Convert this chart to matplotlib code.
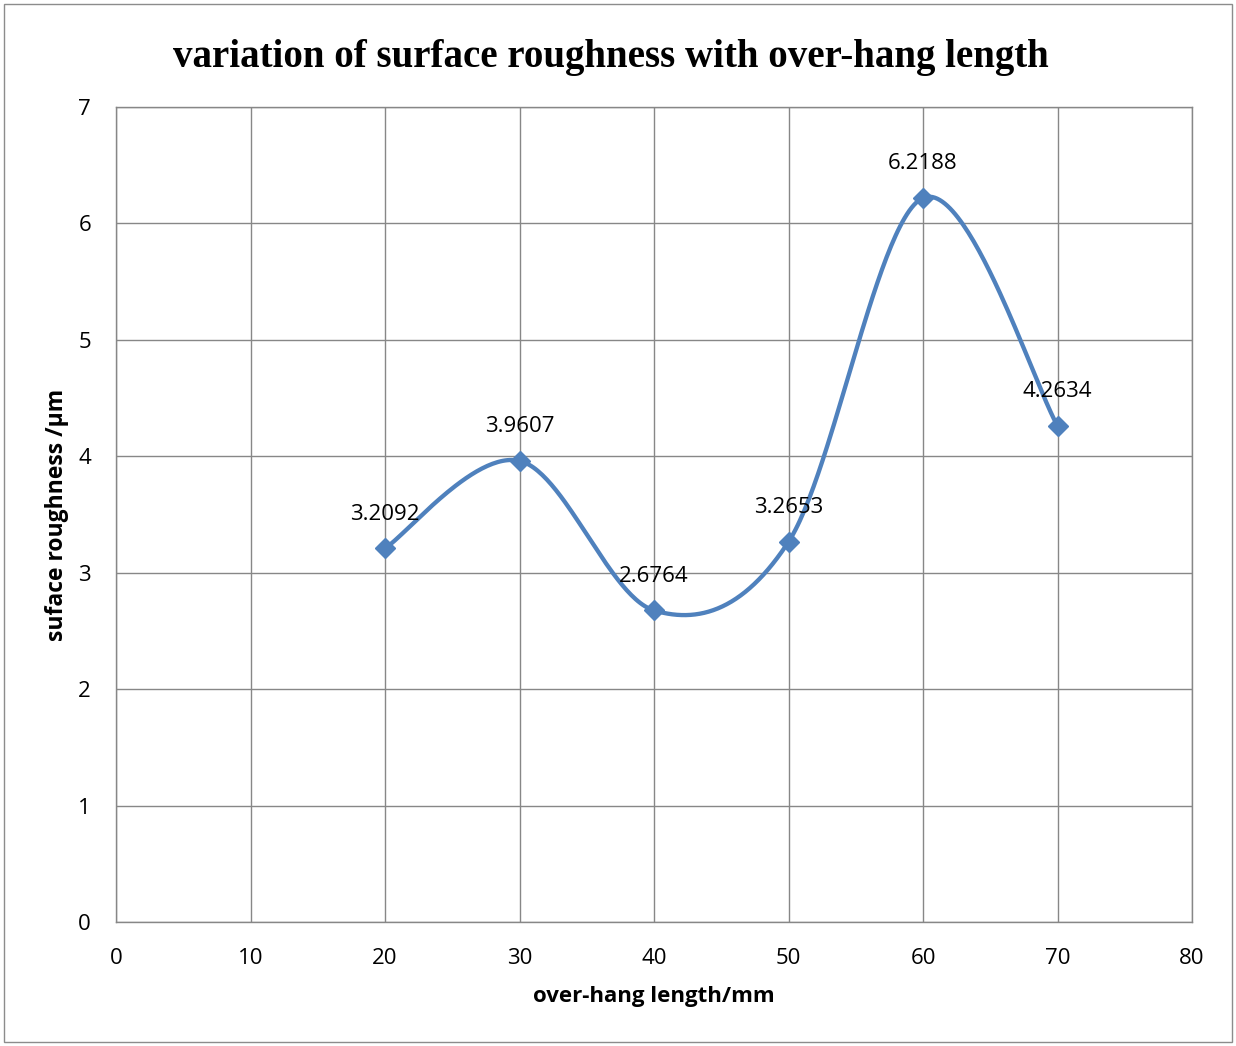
import numpy as np
import matplotlib
matplotlib.use("Agg")
import matplotlib.pyplot as plt
from matplotlib.patches import Rectangle

# data
overhang = [20, 30, 40, 50, 60, 70]
roughness = [3.2092, 3.9607, 2.6764, 3.2653, 6.2188, 4.2634]
labels = ["3.2092", "3.9607", "2.6764", "3.2653", "6.2188", "4.2634"]

line_color = "#4F81BD"
grid_color = "#878787"


def smooth_curve(x, y, steps=60):
    """Excel-like smoothed line: cubic Bezier segments with Catmull-Rom control points"""
    x = np.asarray(x, float)
    y = np.asarray(y, float)
    px = np.concatenate([[x[0]], x, [x[-1]]])
    py = np.concatenate([[y[0]], y, [y[-1]]])
    xs, ys = [], []
    t = np.linspace(0, 1, steps)
    for i in range(1, len(px) - 2):
        p0 = np.array([px[i], py[i]])
        p3 = np.array([px[i + 1], py[i + 1]])
        c1 = p0 + (np.array([px[i + 1], py[i + 1]]) - np.array([px[i - 1], py[i - 1]])) / 6
        c2 = p3 - (np.array([px[i + 2], py[i + 2]]) - np.array([px[i], py[i]])) / 6
        b = ((1 - t) ** 3)[:, None] * p0 + (3 * (1 - t) ** 2 * t)[:, None] * c1 \
            + (3 * (1 - t) * t ** 2)[:, None] * c2 + (t ** 3)[:, None] * p3
        xs.append(b[:, 0])
        ys.append(b[:, 1])
    return np.concatenate(xs), np.concatenate(ys)


fig = plt.figure(figsize=(12.36, 10.46), dpi=100)
ax = fig.add_axes([116 / 1236, 1 - 922 / 1046, (1192 - 116) / 1236, (922 - 107) / 1046])

# outer chart border
fig.patches.append(Rectangle((4 / 1236, 4 / 1046), 1228 / 1236, 1038 / 1046,
                             transform=fig.transFigure, fill=False,
                             edgecolor="#8c8c8c", linewidth=1))

sx, sy = smooth_curve(overhang, roughness)
ax.plot(sx, sy, color=line_color, linewidth=3.1, zorder=3)
ax.plot(overhang, roughness, linestyle="none", marker="D", markersize=10.5,
        color=line_color, zorder=4)

for xv, yv, lab in zip(overhang, roughness, labels):
    ax.annotate(lab, (xv, yv), xytext=(0, 24.5), textcoords="offset points",
                ha="center", va="center", fontsize=16, family="Open Sans",
                color="black", zorder=5)

ax.set_xlim(0, 80)
ax.set_ylim(0, 7)
ax.set_xticks(range(0, 81, 10))
ax.set_yticks(range(0, 8))
ax.grid(True, color=grid_color, linewidth=1)
ax.set_axisbelow(True)
for sp in ax.spines.values():
    sp.set_color(grid_color)
    sp.set_linewidth(1)
ax.tick_params(length=0, labelsize=16)
ax.tick_params(axis="x", pad=19)
ax.tick_params(axis="y", pad=18)
for lbl in ax.get_xticklabels() + ax.get_yticklabels():
    lbl.set_family("Open Sans")

ax.set_xlabel("over-hang length/mm", fontsize=16, fontweight="bold",
              family="Open Sans", labelpad=12)
ax.set_ylabel("suface roughness /\u00b5m", fontsize=16.5, fontweight="bold",
              family="Open Sans", labelpad=7)

fig.text(611 / 1236, 1 - 57 / 1046, "variation of surface roughness with over-hang length",
         ha="center", va="center", fontsize=28, fontweight="bold",
         family="Liberation Serif")

fig.savefig("out.png", dpi=100)
